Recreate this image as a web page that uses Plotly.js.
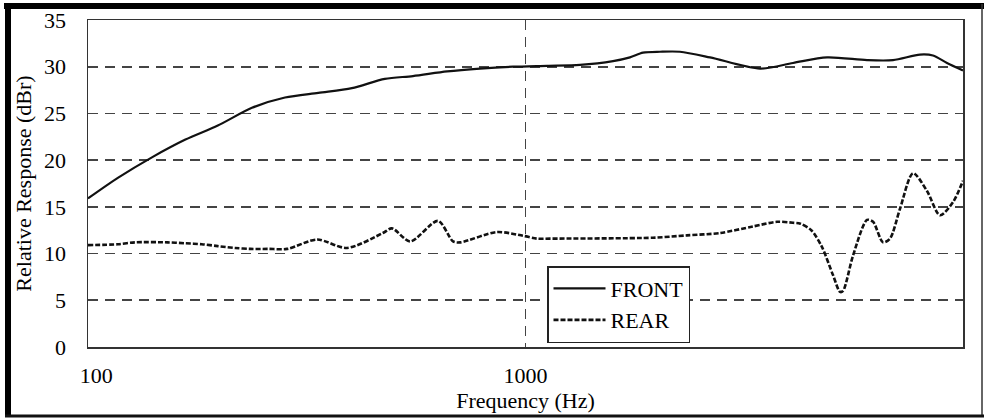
<!DOCTYPE html>
<html>
<head>
<meta charset="utf-8">
<script src="https://cdn.plot.ly/plotly-3.0.1.min.js"></script>
<style>
  html, body { margin: 0; padding: 0; background: #ffffff; }
  #chart { width: 986px; height: 418px; }
</style>
</head>
<body>
<div id="chart"></div>
<script>
// Frequency response
const frontFreq = [100, 117, 140, 167, 198, 237, 282, 336, 401, 477, 553, 662, 787, 936, 1120, 1332, 1585, 1733, 1856, 2030, 2254, 2641, 3436, 4088, 4890, 6033, 6918, 7974, 8537, 9192, 10000];
const frontDb   = [15.9, 18.1, 20.3, 22.2, 23.7, 25.6, 26.7, 27.2, 27.7, 28.7, 29.0, 29.5, 29.8, 30.0, 30.1, 30.2, 30.6, 31.0, 31.5, 31.6, 31.6, 31.0, 29.8, 30.4, 31.0, 30.7, 30.7, 31.3, 31.2, 30.4, 29.6];

const rearFreq = [100, 117, 128, 152, 167, 182, 198, 217, 235, 258, 285, 334, 391, 472, 495, 545, 631, 683, 709, 861, 987, 1062, 1138, 1956, 2339, 2783, 3311, 3757, 4088, 4250, 4500, 4750, 5045, 5235, 5319, 5607, 6033, 6230, 6563, 6810, 7178, 7689, 8275, 8860, 9487, 10000];
const rearDb   = [10.9, 11.0, 11.2, 11.2, 11.1, 11.0, 10.8, 10.6, 10.5, 10.5, 10.5, 11.5, 10.6, 12.2, 12.7, 11.3, 13.5, 11.3, 11.2, 12.3, 11.9, 11.6, 11.6, 11.7, 11.95, 12.2, 12.9, 13.4, 13.3, 13.2, 12.5, 10.8, 7.7, 5.9, 6.0, 9.8, 13.6, 13.4, 11.2, 11.6, 14.8, 18.6, 16.7, 14.1, 15.5, 17.8];

const xTickVals = [100, 1000, 10000];
// non-breaking spaces nudge the edge labels inward, as in the original
const xTickText = ['\u00a0\u00a0\u00a0100', '1000', '10000\u00a0\u00a0\u00a0'];
const yTickVals = [0, 5, 10, 15, 20, 25, 30, 35];

const serif = 'Liberation Serif, Times New Roman, serif';

const traces = [
  {
    x: frontFreq, y: frontDb, name: 'FRONT', type: 'scatter', mode: 'lines',
    line: { color: '#111111', width: 2.2, shape: 'spline', smoothing: 0.8 }
  },
  {
    x: rearFreq, y: rearDb, name: 'REAR', type: 'scatter', mode: 'lines',
    line: { color: '#111111', width: 2.6, dash: '5px,2px', shape: 'spline', smoothing: 0.8 }
  }
];

// paper-coordinate helpers for the outer frame (plot area 88..963 x, 20..347 y)
const L = 88, R = 963, T = 20, B = 347;
const px = v => (v - L) / (R - L);
const py = v => (B - v) / (B - T);

const layout = {
  width: 986, height: 418,
  margin: { l: L, r: 986 - R, t: T, b: 418 - B },
  paper_bgcolor: '#ffffff', plot_bgcolor: '#ffffff',
  showlegend: true,
  legend: {
    x: px(547), y: py(266), xanchor: 'left', yanchor: 'top',
    bgcolor: '#ffffff', bordercolor: '#222222', borderwidth: 1.5,
    font: { family: serif, size: 22, color: '#000000' },
    itemwidth: 52,
    tracegroupgap: 0
  },
  xaxis: {
    type: 'log', range: [2, 4],
    tickvals: xTickVals, ticktext: xTickText,
    showgrid: true, gridcolor: '#444444', gridwidth: 1.6, griddash: '10px,7px',
    showline: true, mirror: true, linecolor: '#333333', linewidth: 1.5,
    zeroline: false,
    ticks: 'outside', ticklen: 8, tickcolor: 'rgba(0,0,0,0)',
    tickfont: { family: serif, size: 22, color: '#000000' },
    title: { text: 'Frequency (Hz)', font: { family: serif, size: 22, color: '#000000' }, standoff: 0 }
  },
  yaxis: {
    range: [0, 35], tickvals: yTickVals,
    showgrid: true, gridcolor: '#444444', gridwidth: 1.6, griddash: '10px,7px',
    showline: true, mirror: true, linecolor: '#333333', linewidth: 1.5,
    zeroline: false,
    ticks: 'outside', ticklen: 16, tickcolor: 'rgba(0,0,0,0)',
    tickfont: { family: serif, size: 22, color: '#000000' },
    title: { text: 'Relative Response (dBr)', font: { family: serif, size: 22, color: '#000000' }, standoff: 6 }
  },
  shapes: [
    { type: 'line', xref: 'paper', yref: 'paper', x0: px(4), x1: px(984), y0: py(6), y1: py(6), line: { color: '#000', width: 6 } },
    { type: 'line', xref: 'paper', yref: 'paper', x0: px(8), x1: px(8), y0: py(3), y1: py(417), line: { color: '#000', width: 6 } },
    { type: 'line', xref: 'paper', yref: 'paper', x0: px(982), x1: px(982), y0: py(4), y1: py(417), line: { color: '#333', width: 1.5 } },
    { type: 'line', xref: 'paper', yref: 'paper', x0: px(5), x1: px(984), y0: py(416), y1: py(416), line: { color: '#111', width: 3 } }
  ]
};

Plotly.newPlot('chart', traces, layout, { staticPlot: true, displayModeBar: false });
</script>
</body>
</html>
